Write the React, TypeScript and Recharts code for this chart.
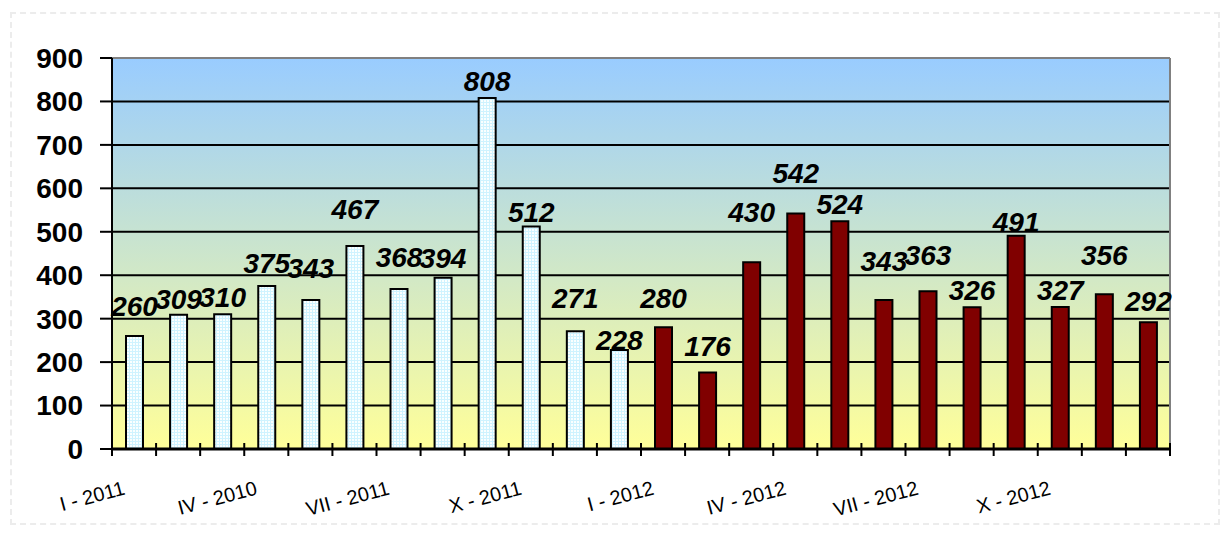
import { Bar, BarChart, CartesianGrid, Cell, LabelList, XAxis, YAxis } from 'recharts'

// monthly values, first year drawn light, second year dark red
const periods = [
  'I - 2011', 'II - 2011', 'III - 2011', 'IV - 2010', 'V - 2011', 'VI - 2011',
  'VII - 2011', 'VIII - 2011', 'IX - 2011', 'X - 2011', 'XI - 2011', 'XII - 2011',
  'I - 2012', 'II - 2012', 'III - 2012', 'IV - 2012', 'V - 2012', 'VI - 2012',
  'VII - 2012', 'VIII - 2012', 'IX - 2012', 'X - 2012', 'XI - 2012', 'XII - 2012',
]
const values2011 = [260, 309, 310, 375, 343, 467, 368, 394, 808, 512, 271, 228]
const values2012 = [280, 176, 430, 542, 524, 343, 363, 326, 491, 327, 356, 292]
const yTicks = [0, 100, 200, 300, 400, 500, 600, 700, 800, 900]

// how far (px) each value label sits above its bar
const labelLift = [
  30, 16, 17, 23, 32, 37, 32, 20, 17, 15, 33, 10,
  29, 27, 50, 41, 17, 39, 36, 17, 14, 17, 39, 21,
]

const CHART_W = 1232
const CHART_H = 533
const MARGIN = { top: 58, right: 62, bottom: 0, left: 0 }
const Y_AXIS_W = 112
const X_AXIS_H = 84
const FONT = '"Liberation Sans", Arial, sans-serif'

const data = periods.map((name, i) => ({
  name,
  value: i < values2011.length ? values2011[i] : values2012[i - values2011.length],
}))

const bandWidth = (CHART_W - MARGIN.left - MARGIN.right - Y_AXIS_W) / periods.length

function PeriodTick(props: any) {
  const { x, y, payload, index } = props
  const left = x - bandWidth / 2
  const last = index === periods.length - 1
  const tx = x - 8
  const ty = y + 45
  return (
    <g>
      <line x1={left} y1={y - 6} x2={left} y2={y + 7} stroke="#000" strokeWidth={2} />
      {last && (
        <line x1={x + bandWidth / 2} y1={y - 6} x2={x + bandWidth / 2} y2={y + 7} stroke="#000" strokeWidth={2} />
      )}
      {index % 3 === 0 && (
        <text
          x={tx}
          y={ty}
          textAnchor="end"
          fontSize={20}
          fill="#000"
          fontFamily={FONT}
          transform={`rotate(-15, ${tx}, ${ty})`}
        >
          {payload.value}
        </text>
      )}
    </g>
  )
}

function ValueLabel(props: any) {
  const { x, y, width, value, index } = props
  const cx = x + width / 2
  const cy = y - labelLift[index]
  return (
    <text
      x={cx}
      y={cy + 10}
      textAnchor="middle"
      fontSize={28}
      fontWeight="bold"
      fontStyle="italic"
      fill="#000"
      fontFamily={FONT}
    >
      {value}
    </text>
  )
}

export default function App() {
  return (
    <div style={{ margin: -8, position: 'relative', width: CHART_W, height: CHART_H, background: '#fff' }}>
      <div
        style={{
          position: 'absolute',
          left: 10,
          top: 12,
          width: CHART_W - 22,
          height: CHART_H - 20,
          border: '2px dashed #ececec',
          boxSizing: 'border-box',
        }}
      />
      <BarChart
        width={CHART_W}
        height={CHART_H}
        data={data}
        margin={MARGIN}
        barCategoryGap="30%"
        style={{ position: 'absolute', left: 0, top: 0, fontFamily: FONT }}
      >
        <defs>
          <linearGradient id="plotBg" x1="0" y1="0" x2="0" y2="1">
            <stop offset="0%" stopColor="#99CCFF" />
            <stop offset="100%" stopColor="#FFFF99" />
          </linearGradient>
          <pattern id="lightDots" width="3" height="3" patternUnits="userSpaceOnUse">
            <rect width="3" height="3" fill="#FAFFFF" />
            <rect width="3" height="1" fill="#CFF3FF" />
            <rect width="1" height="3" fill="#CFF3FF" />
          </pattern>
        </defs>
        <CartesianGrid vertical={false} stroke="#000" strokeWidth={2} fill="url(#plotBg)" fillOpacity={1} />
        <CartesianGrid
          stroke="#808080"
          strokeWidth={2}
          horizontalCoordinatesGenerator={({ offset }: any) => [offset.top]}
          verticalCoordinatesGenerator={({ offset }: any) => [offset.left + offset.width]}
        />
        <XAxis
          dataKey="name"
          interval={0}
          height={X_AXIS_H}
          tickLine={false}
          tickSize={0}
          tickMargin={0}
          axisLine={{ stroke: '#000', strokeWidth: 3 }}
          tick={<PeriodTick />}
        />
        <YAxis
          domain={[0, 900]}
          ticks={yTicks}
          width={Y_AXIS_W}
          tickSize={12}
          tickMargin={17}
          axisLine={{ stroke: '#000', strokeWidth: 2 }}
          tickLine={{ stroke: '#000', strokeWidth: 2 }}
          tick={{ fontSize: 28, fontWeight: 'bold', fill: '#000', fontFamily: FONT }}
        />
        <Bar dataKey="value" barSize={17} stroke="#000" strokeWidth={2} isAnimationActive={false}>
          {data.map((_, i) => (
            <Cell key={`cell-${i}`} fill={i < values2011.length ? 'url(#lightDots)' : '#800000'} />
          ))}
          <LabelList dataKey="value" content={<ValueLabel />} />
        </Bar>
      </BarChart>
    </div>
  )
}
